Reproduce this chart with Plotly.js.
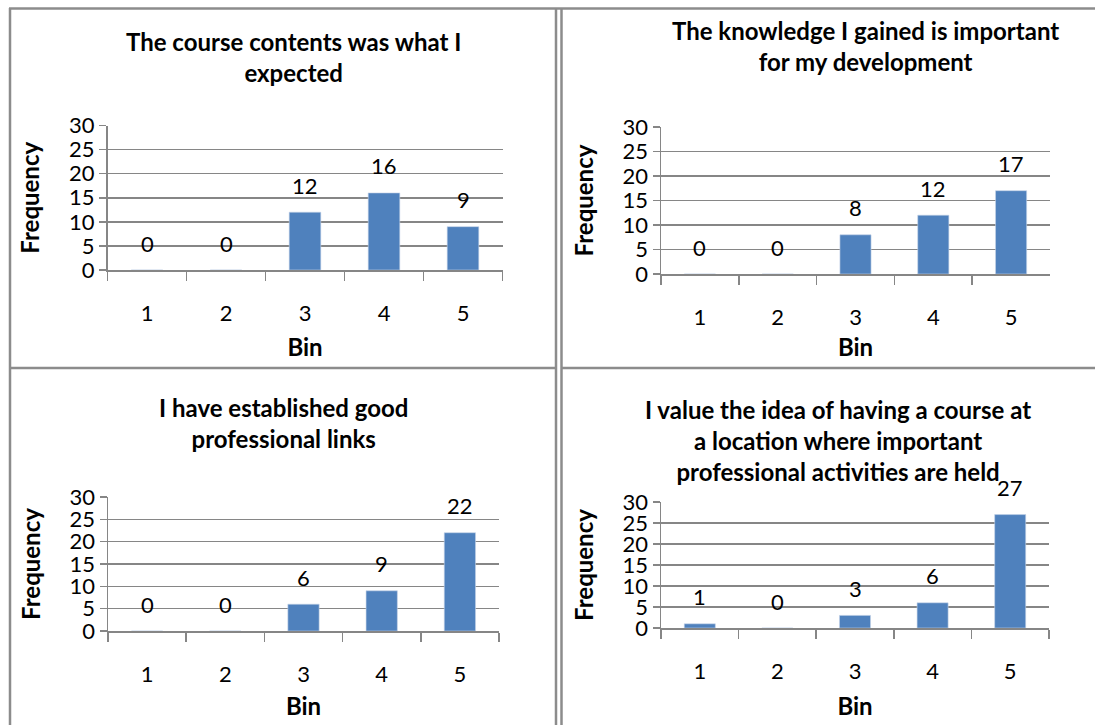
<!DOCTYPE html>
<html>
<head>
<meta charset="utf-8">
<script src="https://cdn.plot.ly/plotly-3.0.1.min.js"></script>
<style>html,body{margin:0;padding:0;background:#fff;}#chart{width:1095px;height:725px;}</style>
</head>
<body>
<div id="chart"></div>
<script>
// ---- data ----
const bins = ['1', '2', '3', '4', '5'];
const courseContents = [0, 0, 12, 16, 9];
const knowledgeGained = [0, 0, 8, 12, 17];
const professionalLinks = [0, 0, 6, 9, 22];
const valueLocation = [1, 0, 3, 6, 27];
const panelTitles = [
  'The course contents was what I<br>expected',
  'The knowledge I gained is important<br>for my development',
  'I have established good<br>professional links',
  'I value the idea of having a course at<br>a location where important<br>professional activities are held'
];
const yTickVals = [0, 5, 10, 15, 20, 25, 30];
const xAxisTitle = 'Bin';
const yAxisTitle = 'Frequency';

// ---- layout helpers ----
const W = 1095, H = 725;
const FONT = 'Lato, "Liberation Sans", sans-serif';
const BAR = '#4F81BD';
const GRID = '#868686';
const px = v => v / W;
const py = v => 1 - v / H;

const series = [courseContents, knowledgeGained, professionalLinks, valueLocation];
const boxes = [
  {x0: 107.5, x1: 502.5, y0: 270, y30: 125.5, tx: 293, ty: 57, bin: 14},
  {x0: 661, x1: 1050, y0: 274, y30: 127, tx: 865, ty: 46, bin: 10},
  {x0: 108, x1: 499, y0: 631, y30: 497, tx: 283, ty: 423, bin: 12},
  {x0: 661, x1: 1049, y0: 628, y30: 502, tx: 838, ty: 440, bin: 15}
];

const data = [];
const layout = {
  width: W, height: H,
  margin: {l: 0, r: 0, t: 0, b: 0},
  paper_bgcolor: '#fff', plot_bgcolor: 'rgba(0,0,0,0)',
  showlegend: false,
  font: {family: FONT, color: '#000'},
  annotations: [],
  shapes: []
};

series.forEach((vals, i) => {
  const n = i + 1;
  const xa = 'xaxis' + (n === 1 ? '' : n), ya = 'yaxis' + (n === 1 ? '' : n);
  const xr = 'x' + (n === 1 ? '' : n), yr = 'y' + (n === 1 ? '' : n);
  const b = boxes[i];
  data.push({
    type: 'bar', x: bins, y: vals, xaxis: xr, yaxis: yr,
    marker: {color: BAR, line: {color: '#c6d4e8', width: 0.6}},
    width: 0.4, hoverinfo: 'x+y'
  });
  layout[xa] = {
    domain: [px(b.x0), px(b.x1)], anchor: yr,
    type: 'category', categoryorder: 'array', categoryarray: bins,
    range: [-0.5, 4.5],
    showline: true, linecolor: GRID, linewidth: 1.5,
    ticks: 'outside', tickson: 'boundaries', ticklen: 9, tickcolor: GRID, tickwidth: 1.5,
    showgrid: false, zeroline: false,
    tickfont: {size: 22, family: FONT}, ticklabelstandoff: 23,
    title: {text: '<b>' + xAxisTitle + '</b>', font: {size: 24, family: FONT}, standoff: b.bin},
    automargin: false, fixedrange: true
  };
  layout[ya] = {
    domain: [py(b.y0), py(b.y30)], anchor: xr,
    range: [0, 30], tickvals: yTickVals,
    showline: true, linecolor: GRID, linewidth: 1.5,
    ticks: 'outside', ticklen: 7, tickcolor: GRID, tickwidth: 1.5,
    showgrid: true, gridcolor: GRID, gridwidth: 1.5, zeroline: false,
    tickfont: {size: 22, family: FONT},
    title: {text: '<b>' + yAxisTitle + '</b>', font: {size: 24, family: FONT}, standoff: 22},
    automargin: false, fixedrange: true
  };
  // data labels (x given as category index)
  vals.forEach((v, k) => {
    layout.annotations.push({
      x: k, y: v, xref: xr, yref: yr, text: String(v), showarrow: false,
      yshift: 27, font: {size: 22, family: FONT}
    });
  });
  // panel title
  layout.annotations.push({
    x: px(b.tx), y: py(b.ty), xref: 'paper', yref: 'paper', xanchor: 'center', yanchor: 'middle',
    text: '<b>' + panelTitles[i] + '</b>', showarrow: false, align: 'center',
    font: {size: 24, family: FONT}
  });
});

// table borders
const BORDER = '#8c8c8c';
const line = (x0, y0, x1, y1) => ({type: 'line', xref: 'paper', yref: 'paper',
  x0: px(x0), y0: py(y0), x1: px(x1), y1: py(y1), line: {color: BORDER, width: 2.5}});
layout.shapes.push(line(9, 8.5, 1095, 8.5));
layout.shapes.push(line(10, 8, 10, 725));
layout.shapes.push(line(556, 8, 556, 725));
layout.shapes.push(line(561.5, 8, 561.5, 725));
layout.shapes.push(line(10, 368, 556, 368));
layout.shapes.push(line(561.5, 368, 1095, 368));

Plotly.newPlot('chart', data, layout, {displayModeBar: false, staticPlot: true});
</script>
</body>
</html>
